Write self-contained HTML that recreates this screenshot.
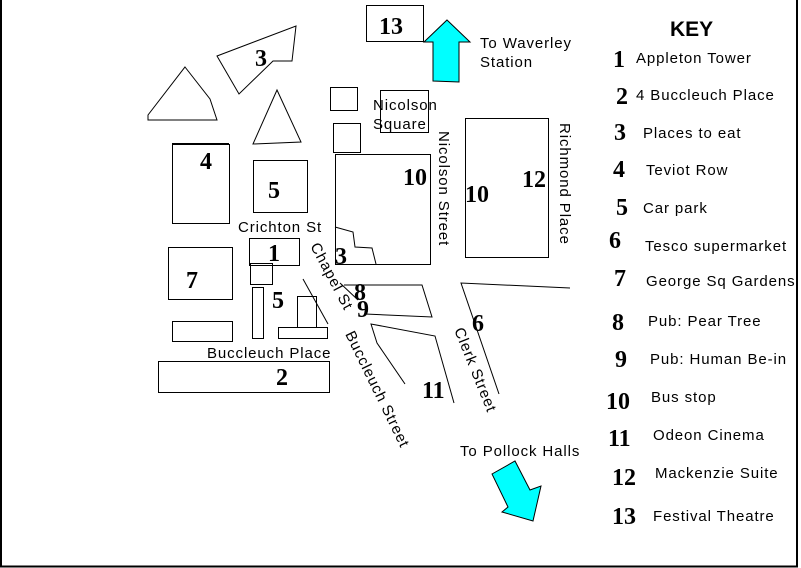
<!DOCTYPE html>
<html><head><meta charset="utf-8"><style>
html,body{margin:0;padding:0;background:#fff;}
svg{display:block;}
.s{font-family:"Liberation Sans",sans-serif;font-size:15px;letter-spacing:0.9px;fill:#000;}
.n{font-family:"Liberation Serif",serif;font-weight:bold;font-size:24px;fill:#000;}
</style></head><body>
<svg width="801" height="568" viewBox="0 0 801 568" xmlns="http://www.w3.org/2000/svg">
<rect x="0" y="0" width="801" height="568" fill="#fff"/>
<line x1="1" y1="0" x2="1" y2="567" stroke="#000" stroke-width="2"/>
<line x1="0" y1="566.5" x2="798" y2="566.5" stroke="#000" stroke-width="2"/>
<line x1="797" y1="0" x2="797" y2="567" stroke="#000" stroke-width="2"/>
<g fill="none" stroke="#000" stroke-width="1">
<rect x="366.5" y="5.5" width="57" height="36"/>
<polygon points="217,56 296,26 292,61 273,61 239,94"/>
<polygon points="185,67 210,99 217,120 148,120 148,115"/>
<polygon points="277,90 301,142 253,144"/>
<rect x="172.5" y="144.5" width="57" height="79"/>
<rect x="253.5" y="160.5" width="54" height="52"/>
<rect x="330.5" y="87.5" width="27" height="23"/>
<rect x="333.5" y="123.5" width="27" height="29"/>
<rect x="380.5" y="90.5" width="48" height="42"/>
<rect x="335.5" y="154.5" width="95" height="110"/>
<polyline points="335,227 353,232 355,247 372,248 373,252 376,264"/>
<rect x="465.5" y="118.5" width="83" height="139"/>
<rect x="249.5" y="238.5" width="50" height="27"/>
<rect x="250.5" y="263.5" width="22" height="21"/>
<rect x="168.5" y="247.5" width="64" height="52"/>
<rect x="252.5" y="287.5" width="11" height="51"/>
<rect x="172.5" y="321.5" width="60" height="20"/>
<rect x="297.5" y="296.5" width="19" height="31"/>
<rect x="278.5" y="327.5" width="49" height="11"/>
<line x1="303" y1="279" x2="328" y2="324"/>
<polyline points="340,283 358,300"/>
<polyline points="344,285 422,285 432,317 365,314"/>
<polyline points="405,384 377,343 371,324 435,336 454,403"/>
<polyline points="570,288 461,283 499,394"/>
<rect x="158.5" y="361.5" width="171" height="31"/>
</g>
<line x1="172" y1="144" x2="229" y2="144" stroke="#000" stroke-width="2"/>
<polygon points="447,20 470,42 459,42 459,82 433,81 433,42 424,42" fill="#00ffff" stroke="#000" stroke-width="1"/>
<polygon points="492,474 515,461 530,490 541,486 533,521 502,512 508,507" fill="#00ffff" stroke="#000" stroke-width="1"/>
<text class="n" x="379" y="34">13</text>
<text class="n" x="255" y="66">3</text>
<text class="n" x="200" y="169">4</text>
<text class="n" x="268" y="198">5</text>
<text class="n" x="403" y="185">10</text>
<text class="n" x="465" y="202">10</text>
<text class="n" x="522" y="187">12</text>
<text class="n" x="335" y="264">3</text>
<text class="n" x="268" y="261">1</text>
<text class="n" x="186" y="288">7</text>
<text class="n" x="272" y="308">5</text>
<text class="n" x="354" y="300">8</text>
<text class="n" x="357" y="317">9</text>
<text class="n" x="472" y="331">6</text>
<text class="n" x="422" y="398">11</text>
<text class="n" x="276" y="385">2</text>
<text class="s" x="480" y="48">To Waverley</text>
<text class="s" x="480" y="67">Station</text>
<text class="s" x="373" y="110">Nicolson</text>
<text class="s" x="373" y="129">Square</text>
<text class="s" x="238" y="232">Crichton St</text>
<text class="s" x="207" y="358">Buccleuch Place</text>
<text class="s" x="460" y="456">To Pollock Halls</text>
<text class="s" transform="translate(439,131) rotate(90)">Nicolson Street</text>
<text class="s" transform="translate(560,123) rotate(90)">Richmond Place</text>
<text class="s" transform="translate(310,246) rotate(62)">Chapel St</text>
<text class="s" transform="translate(345,334) rotate(64)">Buccleuch Street</text>
<text class="s" transform="translate(454,330) rotate(68)">Clerk Street</text>
<text style="font-family:'Liberation Sans',sans-serif;font-weight:bold;font-size:21px" x="670" y="36">KEY</text>
<text class="n" x="613" y="67">1</text><text class="s" x="636" y="63">Appleton Tower</text>
<text class="n" x="616" y="104">2</text><text class="s" x="636" y="100">4 Buccleuch Place</text>
<text class="n" x="614" y="140">3</text><text class="s" x="643" y="138">Places to eat</text>
<text class="n" x="613" y="177">4</text><text class="s" x="646" y="175">Teviot Row</text>
<text class="n" x="616" y="215">5</text><text class="s" x="643" y="213">Car park</text>
<text class="n" x="609" y="248">6</text><text class="s" x="645" y="251">Tesco supermarket</text>
<text class="n" x="614" y="286">7</text><text class="s" x="646" y="286">George Sq Gardens</text>
<text class="n" x="612" y="330">8</text><text class="s" x="648" y="326">Pub: Pear Tree</text>
<text class="n" x="615" y="367">9</text><text class="s" x="650" y="364">Pub: Human Be-in</text>
<text class="n" x="606" y="409">10</text><text class="s" x="651" y="402">Bus stop</text>
<text class="n" x="608" y="446">11</text><text class="s" x="653" y="440">Odeon Cinema</text>
<text class="n" x="612" y="485">12</text><text class="s" x="655" y="478">Mackenzie Suite</text>
<text class="n" x="612" y="524">13</text><text class="s" x="653" y="521">Festival Theatre</text>
</svg>
</body></html>
